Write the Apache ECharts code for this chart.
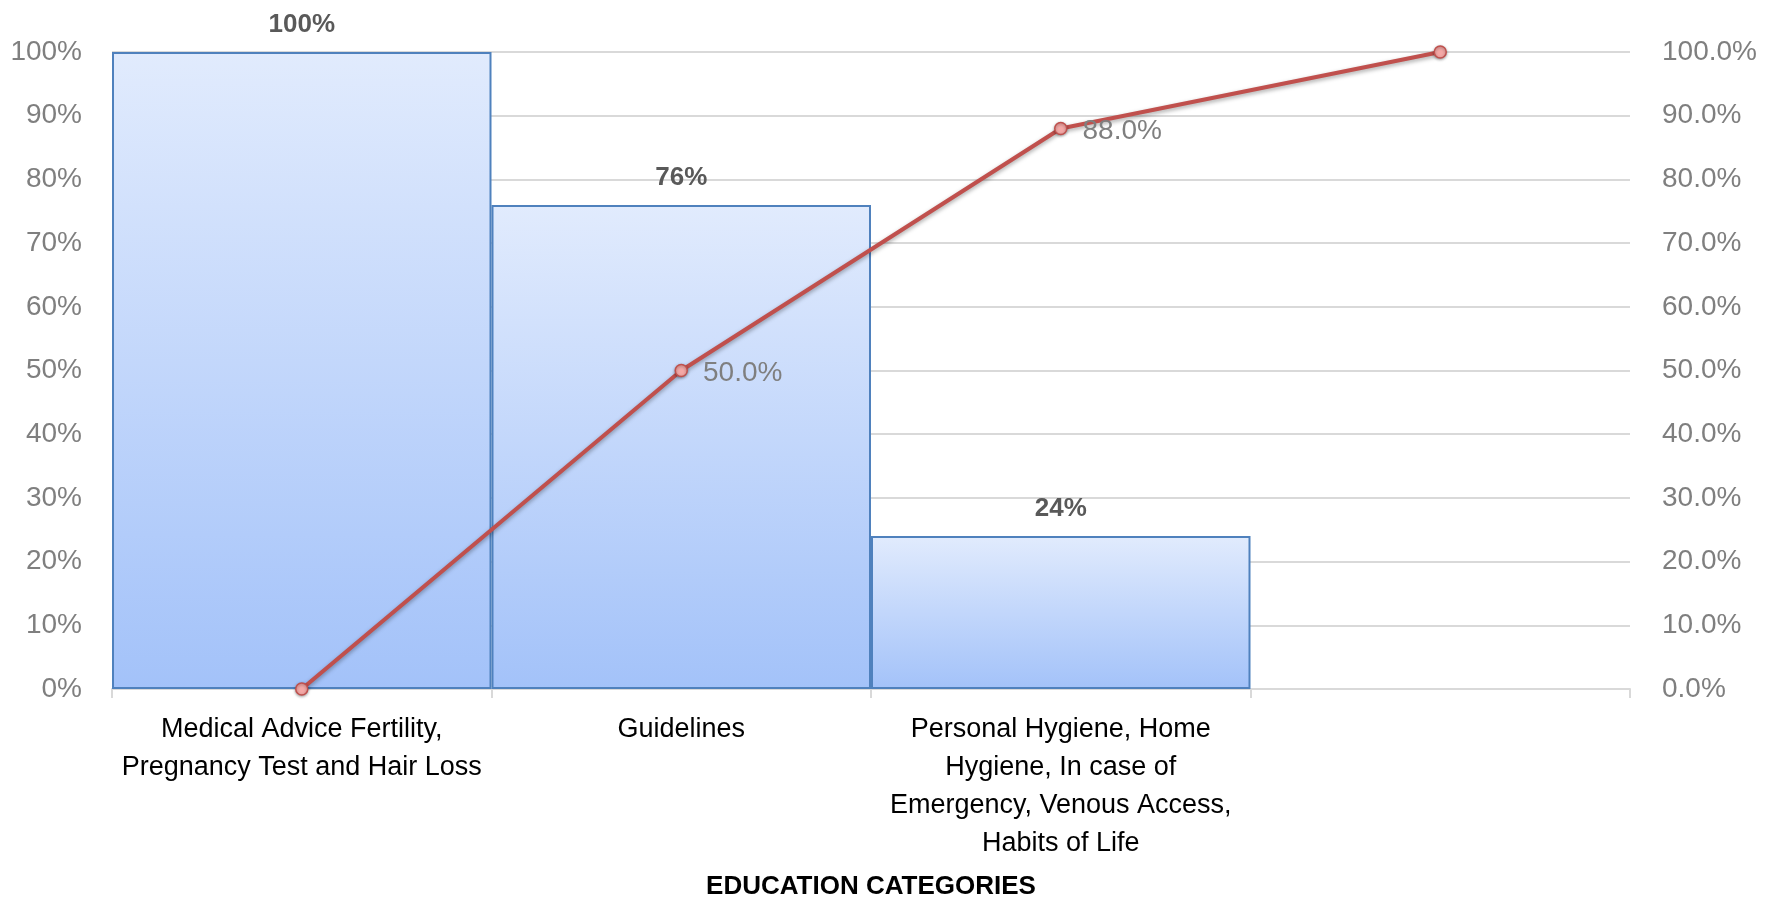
<!DOCTYPE html>
<html><head><meta charset="utf-8">
<script src="https://cdn.jsdelivr.net/npm/echarts@6/dist/echarts.min.js"></script>
<style>html,body{margin:0;padding:0;background:#fff}#c{width:1768px;height:897px}</style>
</head><body><div id="c"></div>
<script>
var categories = [
  'Medical Advice Fertility,\nPregnancy Test and Hair Loss',
  'Guidelines',
  'Personal Hygiene, Home\nHygiene, In case of\nEmergency, Venous Access,\nHabits of Life',
  ''
];
var barValues = [100, 76, 24, null];
var cumulativeValues = [0, 50, 88, 100];
var lineLabelShown = [false, true, true, false];
var axisTitle = 'EDUCATION CATEGORIES';

var FONT = '"Liberation Sans", Arial, sans-serif';
var chart = echarts.init(document.getElementById('c'));
chart.setOption({
  animation: false,
  grid: {left: 112, right: 138, top: 52, bottom: 208, containLabel: false, outerBoundsMode: 'none'},
  xAxis: {
    type: 'category',
    data: categories,
    name: axisTitle,
    nameLocation: 'middle',
    nameGap: 185,
    nameTextStyle: {fontFamily: FONT, fontSize: 26, fontWeight: 'bold', color: '#000'},
    axisLine: {lineStyle: {color: '#d9d9d9', width: 2}},
    axisTick: {show: true, length: 9, lineStyle: {color: '#d9d9d9', width: 2}},
    axisLabel: {fontFamily: FONT, fontSize: 27, color: '#000', lineHeight: 38, margin: 22, interval: 0}
  },
  yAxis: [{
    type: 'value', min: 0, max: 100, interval: 10,
    axisLine: {show: false}, axisTick: {show: false},
    splitLine: {lineStyle: {color: '#d9d9d9', width: 2}},
    axisLabel: {fontFamily: FONT, fontSize: 28, color: '#7f7f7f', margin: 30, formatter: function(v){return v + '%';}}
  }, {
    type: 'value', min: 0, max: 100, interval: 10, position: 'right',
    axisLine: {show: false}, axisTick: {show: false}, splitLine: {show: false},
    axisLabel: {fontFamily: FONT, fontSize: 28, color: '#7f7f7f', margin: 32, formatter: function(v){return v.toFixed(1) + '%';}}
  }],
  series: [{
    type: 'bar',
    data: barValues,
    barCategoryGap: 0,
    itemStyle: {
      color: new echarts.graphic.LinearGradient(0, 0, 0, 1, [
        {offset: 0, color: '#e1ebfd'}, {offset: 1, color: '#a3c2f9'}
      ]),
      borderColor: '#4f81bd', borderWidth: 2
    },
    label: {show: true, position: 'top', distance: 14, fontFamily: FONT, fontSize: 26, fontWeight: 'bold', color: '#595959',
      formatter: function(p){return p.value + '%';}}
  }, {
    type: 'line',
    yAxisIndex: 1,
    data: cumulativeValues.map(function(v, i){
      return {value: v, label: {show: lineLabelShown[i]}};
    }),
    symbol: 'circle', symbolSize: 12,
    lineStyle: {color: '#c0504d', width: 4, shadowColor: 'rgba(0,0,0,0.35)', shadowBlur: 4, shadowOffsetY: 2},
    itemStyle: {color: '#f4a8a6', borderColor: '#c0504d', borderWidth: 1.5, shadowColor: 'rgba(0,0,0,0.35)', shadowBlur: 3, shadowOffsetY: 1},
    label: {position: 'right', distance: 15, offset: [0, 3], fontFamily: FONT, fontSize: 28, color: '#7f7f7f',
      formatter: function(p){return p.value.toFixed(1) + '%';}},
    z: 5
  }]
});
</script></body></html>
